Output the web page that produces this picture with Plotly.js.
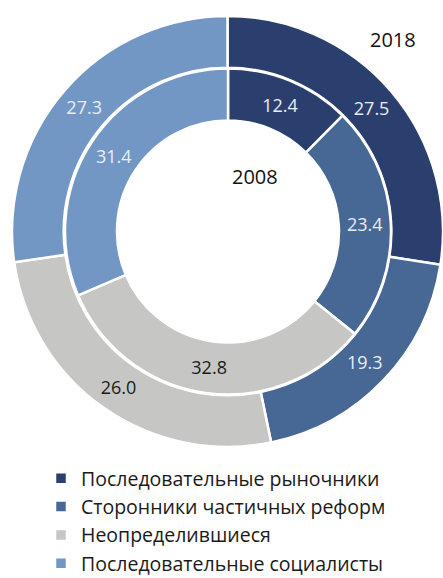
<!DOCTYPE html>
<html>
<head>
<meta charset="utf-8">
<script src="https://cdn.plot.ly/plotly-3.0.1.min.js"></script>
<style>html,body{margin:0;padding:0;background:#fff;overflow:hidden}#chart{width:443px;height:578px}</style>
</head>
<body>
<div id="chart"></div>
<script>
const categories = ["Последовательные рыночники", "Сторонники частичных реформ", "Неопределившиеся", "Последовательные социалисты"];
const values2018 = [27.5, 19.3, 26.0, 27.3];
const values2008 = [12.4, 23.4, 32.8, 31.4];
const yearLabels = ["2018", "2008"];
const colors = ["#2B3F6F", "#476794", "#C6C7C5", "#7297C5"];
const textColors = ["#E9EDF3", "#E9EDF3", "#1a1a1a", "#E9EDF3"];

const W = 443, H = 578;
const cx = 228, cyTop = 231.5;
const cyB = H - cyTop;
const R1 = 216, R2 = 163;

const outer = {
  type: "pie", labels: categories, values: values2018, sort: false, direction: "clockwise", rotation: 0,
  hole: 164 / 215.75,
  domain: {x: [(cx - R1) / W, 1], y: [(cyB - R1) / H, (cyB + R1) / H]},
  marker: {colors: colors, line: {color: "#ffffff", width: 2.5}},
  texttemplate: "%{value:.1f}", textposition: "inside", insidetextorientation: "horizontal",
  textfont: {family: "Open Sans", size: 18, color: textColors},
  hoverinfo: "label+value", showlegend: true
};
const inner = {
  type: "pie", labels: categories, values: values2008, sort: false, direction: "clockwise", rotation: 0,
  hole: 111 / 163,
  domain: {x: [(cx - R2) / W, (cx + R2) / W], y: [(cyB - R2) / H, (cyB + R2) / H]},
  marker: {colors: colors, line: {color: "#ffffff", width: 2.5}},
  texttemplate: "%{value:.1f}", textposition: "inside", insidetextorientation: "horizontal",
  textfont: {family: "Open Sans", size: 18, color: textColors},
  hoverinfo: "label+value", showlegend: false
};

const layout = {
  width: W, height: H,
  margin: {l: 0, r: 0, t: 0, b: 0, autoexpand: false},
  paper_bgcolor: "#ffffff",
  font: {family: "Open Sans", color: "#1a1a1a"},
  showlegend: true,
  legend: {x: 41 / W, xanchor: "left", y: (H - 459) / H, yanchor: "top",
           font: {family: "Open Sans", size: 19.5, color: "#1a1a1a"}, traceorder: "normal",
           bgcolor: "rgba(0,0,0,0)", tracegroupgap: 0},
  annotations: [
    {text: yearLabels[0], x: 393 / W, y: (H - 40) / H, xref: "paper", yref: "paper", xanchor: "center", yanchor: "middle", showarrow: false, font: {family: "Open Sans", size: 20, color: "#111"}},
    {text: yearLabels[1], x: 255 / W, y: (H - 176) / H, xref: "paper", yref: "paper", xanchor: "center", yanchor: "middle", showarrow: false, font: {family: "Open Sans", size: 20, color: "#111"}}
  ]
};
Plotly.newPlot("chart", [outer, inner], layout, {displayModeBar: false, staticPlot: true});
</script>
</body>
</html>
